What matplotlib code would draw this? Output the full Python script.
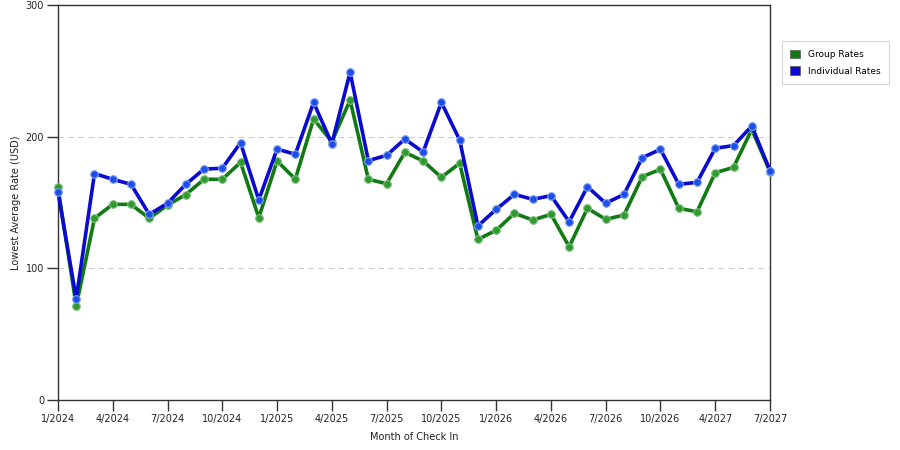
import matplotlib
matplotlib.use("Agg")
import matplotlib.pyplot as plt
from matplotlib.patches import Patch

tick_labels = ["1/2024", "4/2024", "7/2024", "10/2024", "1/2025", "4/2025", "7/2025",
               "10/2025", "1/2026", "4/2026", "7/2026", "10/2026", "4/2027", "7/2027"]

group_rates = [161.5, 71.4, 138, 148.6, 148.6, 138, 148, 156, 167.6, 167.6,
               180.5, 138.5, 181.5, 167.8, 213.4, 196.2, 227.8, 167.6, 164.3, 188.1,
               181.5, 169.1, 179.8, 122, 128.9, 141.8, 136.7, 141.0, 116.4, 145.6,
               137.2, 140.5, 169.6, 175.2, 145.6, 143, 172.6, 176.7, 205.5, 173.4]

individual_rates = [158, 77, 172, 167.6, 163.8, 141, 149.4, 163.8, 175.4, 176,
                    195.4, 151.9, 190.6, 186.6, 226, 194.7, 248.9, 181.8, 185.8, 198.2,
                    188.3, 226, 197.5, 132.2, 144.8, 156.2, 152.4, 155.2, 135.4, 162,
                    149.4, 156.2, 184, 190.4, 163.8, 165.3, 191.2, 193.2, 208.1, 174.2]

green = "#127a12"
blue = "#0a0ad0"

fig = plt.figure(figsize=(9, 4.5), dpi=100)
ax = fig.add_axes([0.0644, 0.1111, 0.7912, 0.8778])

x = list(range(len(group_rates)))
ax.plot(x, group_rates, color=green, lw=2.6, marker="o", ms=5.5,
        mfc="#2f9a2f", mec="#7fc07f", mew=0.8, zorder=3, clip_on=False)
ax.plot(x, individual_rates, color=blue, lw=2.6, marker="o", ms=5.5,
        mfc="#1e4ee8", mec="#7f9fef", mew=0.8, zorder=4, clip_on=False)

ax.set_xlim(0, len(x) - 1)
ax.set_ylim(0, 300)
ax.set_xticks(list(range(0, len(x), 3)))
ax.set_xticklabels(tick_labels, fontsize=7, color="#222222")
ax.set_yticks([0, 100, 200, 300])
ax.set_yticklabels(["0", "100", "200", "300"], fontsize=7, color="#222222")
ax.tick_params(axis="x", direction="out", length=8, width=1, color="#333333", pad=2)
ax.tick_params(axis="y", direction="out", length=8, width=1, color="#333333", pad=2)
for y in [100, 200]:
    ax.axhline(y, color="#cccccc", lw=0.8, ls=(0, (5, 4)), zorder=1)
for s in ax.spines.values():
    s.set_color("#333333")
    s.set_linewidth(1)

ax.set_xlabel("Month of Check In", fontsize=7, color="#222222", labelpad=6)
ax.set_ylabel("Lowest Average Rate (USD)", fontsize=7, color="#222222", labelpad=3)

handles = [Patch(facecolor=green, edgecolor="#555555", lw=0.5, label="Group Rates"),
           Patch(facecolor=blue, edgecolor="#555555", lw=0.5, label="Individual Rates")]
leg = fig.legend(handles=handles, loc="upper left", bbox_to_anchor=(0.864, 0.918),
                 fontsize=6.5, frameon=True, fancybox=False, edgecolor="#cccccc",
                 handlelength=1.1, handleheight=1.1, labelspacing=0.8,
                 borderpad=0.9, handletextpad=0.9)
leg.get_frame().set_linewidth(0.8)

fig.savefig("out.png", dpi=100)
